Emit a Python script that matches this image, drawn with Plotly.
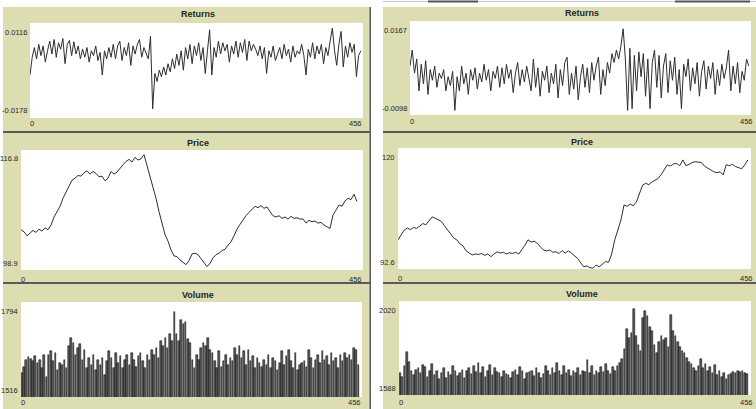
import plotly.graph_objects as go

W, H = 756, 409

# ---------------- data ----------------
X_MAX = 456
RET_STEP, PRICE_STEP, VOL_STEP = 3, 4, 3

returns_left = [
    -0.0045, 0.0010, 0.0040, 0.0005, 0.0050, 0.0015, 0.0045, -0.0005, 0.0030, 0.0060,
    0.0020, 0.0065, 0.0010, 0.0055, 0.0035, 0.0068, -0.0010, 0.0050, 0.0062, 0.0015,
    0.0058, 0.0020, 0.0045, 0.0005, 0.0035, 0.0010, 0.0040, -0.0005, 0.0030, 0.0015,
    0.0045, 0.0000, 0.0025, -0.0045, 0.0030, 0.0005, 0.0040, 0.0010, 0.0050, 0.0005,
    0.0045, 0.0060, 0.0000, 0.0040, 0.0015, 0.0055, -0.0015, 0.0045, 0.0020, 0.0050,
    0.0065, 0.0010, 0.0040, 0.0020, 0.0005, 0.0075, -0.0150, -0.0040, -0.0065, -0.0030,
    -0.0050, -0.0020, -0.0045, -0.0010, -0.0035, 0.0005, -0.0025, 0.0020, -0.0015, 0.0030,
    -0.0030, 0.0040, 0.0005, 0.0050, -0.0010, 0.0045, 0.0015, 0.0055, 0.0000, 0.0040,
    -0.0040, 0.0030, 0.0095, -0.0045, 0.0040, 0.0010, 0.0060, 0.0020, 0.0055, 0.0030,
    0.0050, -0.0005, 0.0045, 0.0020, 0.0060, 0.0010, 0.0055, 0.0025, 0.0065, 0.0000,
    0.0060, 0.0030, 0.0050, 0.0035, 0.0015, 0.0045, 0.0005, 0.0040, -0.0040, 0.0030,
    0.0010, 0.0045, 0.0000, 0.0020, 0.0040, 0.0005, 0.0050, 0.0015, 0.0035, -0.0005,
    0.0045, 0.0010, 0.0030, 0.0020, 0.0050, 0.0015, -0.0045, 0.0035, 0.0010, 0.0055,
    0.0005, 0.0045, 0.0020, 0.0050, -0.0010, 0.0040, 0.0015, 0.0060, 0.0100, 0.0030,
    -0.0015, 0.0050, 0.0090, -0.0020, 0.0045, 0.0010, 0.0055, 0.0025, 0.0050, -0.0050,
    0.0015, 0.0030,
]

returns_right = [
    0.0040, 0.0085, 0.0020, 0.0060, -0.0030, 0.0045, -0.0010, 0.0055, -0.0040, 0.0030,
    0.0000, 0.0040, -0.0020, 0.0020, 0.0005, 0.0030, -0.0030, 0.0010, -0.0015, 0.0025,
    -0.0085, 0.0010, -0.0030, 0.0040, -0.0010, 0.0020, -0.0040, 0.0030, 0.0000, 0.0035,
    -0.0025, 0.0020, -0.0005, 0.0045, 0.0000, 0.0030, -0.0030, 0.0025, 0.0005, 0.0040,
    -0.0020, 0.0035, -0.0010, 0.0045, 0.0005, 0.0030, -0.0035, 0.0020, 0.0050, -0.0015,
    0.0030, -0.0005, 0.0040, 0.0010, -0.0030, 0.0060, -0.0020, 0.0035, -0.0045, 0.0025,
    0.0000, 0.0040, -0.0035, 0.0020, -0.0010, 0.0045, -0.0050, 0.0030, -0.0015, 0.0050,
    0.0065, -0.0040, 0.0020, -0.0025, 0.0040, -0.0055, 0.0010, 0.0045, -0.0020, 0.0035,
    -0.0035, 0.0050, 0.0000, 0.0040, 0.0065, -0.0040, 0.0030, -0.0015, 0.0050, 0.0020,
    0.0075, 0.0050, 0.0085, 0.0060, 0.0095, 0.0145, 0.0060, -0.0085, 0.0090, -0.0080,
    0.0070, -0.0030, 0.0080, 0.0010, 0.0075, -0.0045, 0.0060, -0.0080, 0.0050, 0.0085,
    -0.0020, 0.0070, -0.0050, 0.0040, 0.0075, -0.0035, 0.0055, 0.0000, 0.0065, -0.0040,
    0.0030, -0.0080, 0.0045, 0.0010, 0.0060, -0.0030, 0.0035, -0.0010, 0.0050, -0.0045,
    0.0025, 0.0055, -0.0025, 0.0040, 0.0005, 0.0050, -0.0040, 0.0030, -0.0015, 0.0045,
    0.0005, 0.0035, 0.0085, -0.0030, 0.0040, -0.0010, 0.0050, -0.0035, 0.0025, 0.0000,
    0.0060, 0.0040,
]

price_left = [
    104.9, 104.6, 104.0, 104.4, 104.8, 104.5, 105.0, 104.7, 105.2, 104.9,
    105.6, 106.8, 107.5, 108.4, 109.6, 110.5, 111.2, 112.3, 112.6, 113.0,
    112.9, 113.4, 113.7, 113.2, 113.6, 113.3, 112.8, 112.9, 112.2, 112.6,
    113.6, 113.2, 113.5, 114.1, 114.6, 115.1, 115.4, 115.0, 115.7, 115.3,
    115.5, 116.1, 114.5, 112.6, 111.2, 109.6, 107.6, 105.8, 104.2, 103.2,
    101.9, 101.0, 100.9, 100.4, 100.0, 99.7, 100.3, 101.3, 101.4, 101.2,
    100.6, 99.9, 99.4, 99.9, 100.7, 101.2, 101.4, 101.8, 102.0, 102.6,
    103.1, 104.0, 105.0, 105.7, 106.4, 107.0, 107.5, 108.0, 108.4, 108.2,
    108.5, 108.1, 108.3, 107.6, 107.0, 106.8, 107.0, 106.6, 106.8, 106.5,
    106.9, 106.6, 106.7, 106.5, 106.5, 105.9, 106.3, 106.1, 106.2, 105.9,
    106.0, 105.6, 105.3, 105.1, 107.1, 107.8, 108.6, 108.4, 109.2, 109.6,
    109.4, 110.2, 109.1,
]

price_right = [
    99.2, 100.3, 101.4, 101.9, 101.5, 102.0, 101.8, 102.3, 102.9, 102.6,
    103.6, 104.4, 104.1, 103.8, 103.4, 102.4, 101.4, 100.6, 99.6, 99.2,
    98.3, 97.8, 96.7, 96.2, 95.8, 96.0, 95.9, 96.1, 95.7, 96.0,
    95.4, 96.0, 96.5, 96.2, 96.4, 96.0, 96.3, 96.1, 96.4, 96.0,
    96.9, 98.0, 99.2, 98.7, 98.9, 98.4, 97.6, 96.9, 96.7, 96.9,
    96.4, 96.5, 96.1, 96.8, 96.2, 96.7, 96.2, 95.6, 95.0, 94.0,
    93.1, 93.3, 92.9, 92.8, 93.5, 93.1, 93.8, 94.3, 94.1, 96.0,
    99.2, 101.5, 103.7, 107.1, 106.8, 107.3, 106.9, 107.8, 109.9, 111.6,
    112.0, 111.7, 112.3, 112.8, 113.1, 114.0, 115.0, 116.2, 115.9, 116.4,
    116.5, 116.0, 117.3, 116.0, 116.3, 116.7, 116.9, 116.8, 116.7, 115.9,
    115.4, 115.0, 114.6, 114.4, 114.6, 113.9, 116.2, 116.0, 116.3, 115.8,
    115.6, 115.3, 116.2, 117.3,
]

volume_left = [
    1585, 1605, 1625, 1632, 1628, 1620, 1635, 1615, 1625, 1600,
    1640, 1575, 1640, 1650, 1620, 1645, 1595, 1615, 1610, 1625,
    1600, 1665, 1690, 1675, 1640, 1660, 1670, 1625, 1655, 1600,
    1630, 1610, 1640, 1595, 1625, 1610, 1630, 1580, 1620, 1650,
    1630, 1600, 1645, 1615, 1635, 1600, 1625, 1640, 1610, 1645,
    1625, 1605, 1635, 1645, 1620, 1600, 1640, 1625, 1655, 1640,
    1660, 1630, 1680, 1665, 1690, 1660, 1700, 1680, 1766, 1700,
    1680, 1740, 1730, 1735, 1685, 1675, 1625, 1600, 1640, 1625,
    1660, 1675, 1665, 1690, 1655, 1645, 1620, 1600, 1650, 1605,
    1620, 1640, 1610, 1630, 1620, 1660, 1640, 1665, 1630, 1650,
    1610, 1655, 1620, 1635, 1600, 1630, 1615, 1605, 1625, 1610,
    1640, 1600, 1630, 1620, 1595, 1615, 1650, 1610, 1635, 1655,
    1620, 1600, 1645, 1595, 1610, 1615, 1620, 1605, 1655, 1630,
    1600, 1625, 1640, 1615, 1650, 1625, 1635, 1610, 1645, 1620,
    1630, 1600, 1640, 1620, 1645, 1630, 1640, 1625, 1660, 1655,
    1610,
]

volume_right = [
    1690, 1670, 1720, 1785, 1740, 1700, 1680, 1705, 1710, 1690,
    1725, 1715, 1670, 1700, 1730, 1680, 1700, 1660, 1690, 1710,
    1665, 1695, 1680, 1720, 1700, 1675, 1690, 1705, 1665, 1700,
    1710, 1685, 1720, 1695, 1735, 1690, 1715, 1670, 1700, 1725,
    1680, 1710, 1695, 1690, 1670, 1700, 1685, 1680, 1665, 1695,
    1705, 1680, 1715, 1700, 1660, 1690, 1695, 1700, 1675, 1710,
    1690, 1665, 1685, 1720, 1700, 1680, 1710, 1690, 1735, 1700,
    1680, 1720, 1690, 1705, 1675, 1700, 1690, 1710, 1680, 1700,
    1695, 1750, 1690, 1720, 1680, 1700, 1690, 1715, 1695, 1730,
    1700, 1685, 1715, 1700, 1720, 1735, 1755, 1800, 1890, 1850,
    1875, 1985, 1860, 1820, 1790, 1940, 1975, 1950, 1900, 1880,
    1820, 1780, 1830, 1860, 1840, 1850, 1810, 1955, 1880, 1860,
    1830, 1810, 1790, 1780, 1760, 1740, 1730, 1710, 1700, 1720,
    1755, 1710, 1730, 1700, 1715, 1690, 1725, 1680, 1700, 1670,
    1690, 1660, 1680, 1685, 1695, 1690, 1700, 1695, 1700, 1690,
    1685,
]

titles = ["Returns", "Price", "Volume"]
y_ranges_left = [[-0.0178, 0.0116], [98.9, 116.8], [1516, 1794]]
y_ranges_right = [[-0.0098, 0.0167], [92.6, 120], [1588, 2020]]
y_labels_left = [["-0.0178", "0.0116"], ["98.9", "116.8"], ["1516", "1794"]]
y_labels_right = [["-0.0098", "0.0167"], ["92.6", "120"], ["1588", "2020"]]
x_labels = ["0", "456"]

# ---------------- layout helpers (pixel -> paper) ----------------
def px(x):
    return x / W

def py(y):
    return 1 - y / H

TAN = "rgb(221,221,178)"
INK = "#262626"
FONT = "Liberation Sans, Arial, sans-serif"

# plot (white) areas in pixels: x0, x1, y0(top), y1(bottom)
areas_left = [(30, 363, 23, 118), (21, 363, 150, 270), (21, 362, 302, 397)]
areas_right = [(410, 751, 21, 115), (398, 751, 148, 269), (399, 751, 301, 395)]

fig = go.Figure()

series_left = [returns_left, price_left, volume_left]
series_right = [returns_right, price_right, volume_right]
steps = [RET_STEP, PRICE_STEP, VOL_STEP]

layout_axes = {}
annotations = []

def add_label(text, x, y, xanchor="center", bold=False, size=7.5):
    annotations.append(dict(
        text=f"<b>{text}</b>" if bold else text,
        x=px(x), y=py(y), xref="paper", yref="paper",
        xanchor=xanchor, yanchor="middle", showarrow=False,
        font=dict(family=FONT, size=size, color=INK),
    ))

ax = 0
for side, areas, series, yr, ylabs, title_x in [
    ("L", areas_left, series_left, y_ranges_left, y_labels_left, 198),
    ("R", areas_right, series_right, y_ranges_right, y_labels_right, 582),
]:
    for k in range(3):
        ax += 1
        x0, x1, y0, y1 = areas[k]
        xa = "xaxis" if ax == 1 else f"xaxis{ax}"
        ya = "yaxis" if ax == 1 else f"yaxis{ax}"
        xref = "x" if ax == 1 else f"x{ax}"
        yref = "y" if ax == 1 else f"y{ax}"
        layout_axes[xa] = dict(domain=[px(x0), px(x1)], range=[0, X_MAX],
                               visible=False, fixedrange=True, anchor=yref)
        layout_axes[ya] = dict(domain=[py(y1), py(y0)], range=yr[k],
                               visible=False, fixedrange=True, anchor=xref)
        vals = series[k]
        xs = [i * steps[k] for i in range(len(vals))]
        if k < 2:
            fig.add_trace(go.Scatter(x=xs, y=vals, mode="lines",
                                     line=dict(color="#2e2e2e", width=1),
                                     xaxis=xref, yaxis=yref, showlegend=False,
                                     hoverinfo="skip"))
        else:
            fig.add_trace(go.Bar(x=xs, y=vals, width=2.1, offset=0,
                                 marker=dict(color="#5a5a5a",
                                             line=dict(color="#000000", width=0.5)),
                                 xaxis=xref, yaxis=yref, showlegend=False,
                                 hoverinfo="skip"))
        # labels
        tcy = [14, 143, 295][k] if side == "L" else [13, 142, 294][k]
        add_label(titles[k], title_x, tcy, bold=True, size=9)
        add_label(ylabs[k][1], x0 - 1, y0 + 9, xanchor="right")
        add_label(ylabs[k][0], x0 - 1, y1 - 7, xanchor="right")
        xly = [123, 279, 402][k] if side == "L" else [122, 278, 402][k]
        add_label(x_labels[0], x0 + 2, xly)
        add_label(x_labels[1], (x1 + 1) if side == "L" else 755, xly, xanchor="right")

shapes = []

def rect(x0, y0, x1, y1, color, layer="below"):
    shapes.append(dict(type="rect", xref="paper", yref="paper",
                       x0=px(x0), x1=px(x1), y0=py(y1), y1=py(y0),
                       fillcolor=color, line=dict(width=0), layer=layer))

# panel backgrounds
rect(3, 7, 370, 409, TAN)
rect(383, 7, 760, 409, TAN)
# separators
for yy in (131, 282):
    rect(3, yy, 370, yy + 2, "#5a5a5a")
    rect(383, yy, 760, yy + 2, "#5a5a5a")
rect(369.5, 7, 371, 409, "#5a5a5a")
# window edge at top right
rect(383, 1, 760, 2, "#c8c8c8")
rect(428, 0.5, 478, 2.5, "#555555")
rect(675, 0.5, 750, 2.5, "#555555")
# white plot areas
for areas in (areas_left, areas_right):
    for (x0, x1, y0, y1) in areas:
        rect(x0, y0, x1, y1, "white")

fig.update_layout(
    width=W, height=H,
    margin=dict(l=0, r=0, t=0, b=0),
    paper_bgcolor="white",
    plot_bgcolor="rgba(0,0,0,0)",
    bargap=0,
    shapes=shapes,
    annotations=annotations,
    **layout_axes,
)

fig.write_html("out.html")
